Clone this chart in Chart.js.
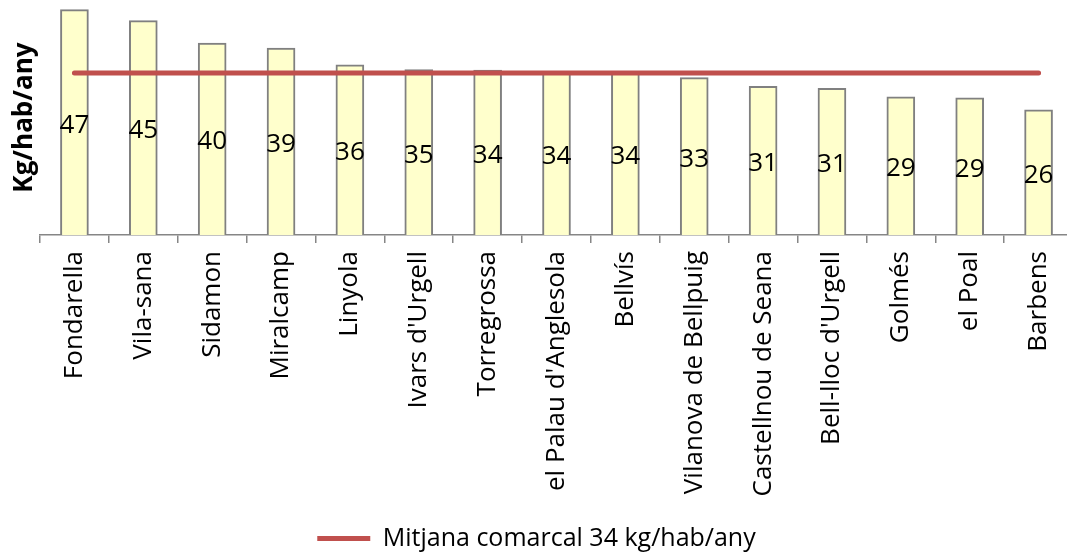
<!DOCTYPE html>
<html>
<head>
<meta charset="utf-8">
<script src="https://cdn.jsdelivr.net/npm/chart.js@4.4.1/dist/chart.umd.min.js"></script>
<style>
    body { margin: 0; background: #fff; overflow: hidden; }
    #wrap { width: 1073px; height: 555px; }
</style>
</head>
<body>
<div id="wrap"><canvas id="residusChart"></canvas></div>
<script>
// Municipis (ordenats de més a menys)
const municipis = [
    "Fondarella", "Vila-sana", "Sidamon", "Miralcamp", "Linyola",
    "Ivars d'Urgell", "Torregrossa", "el Palau d'Anglesola", "Bellvís",
    "Vilanova de Bellpuig", "Castellnou de Seana", "Bell-lloc d'Urgell",
    "Golmés", "el Poal", "Barbens"
];

// Kg/hab/any per municipi
const kgHabAny = [47.0, 44.7, 40.0, 39.0, 35.5, 34.5, 34.4, 34.0, 33.9, 32.8, 31.0, 30.6, 28.8, 28.6, 26.1];

// Mitjana comarcal
const mitjana = 33.8;
const mitjanaSerie = municipis.map(() => mitjana);

const fontFamily = "'Open Sans', 'Noto Sans', sans-serif";

// Etiquetes de valor al mig de cada barra
const valueLabels = {
    id: "valueLabels",
    afterDatasetsDraw(chart) {
        let ctx = chart.ctx;
        let meta = chart.getDatasetMeta(0);
        ctx.save();
        ctx.font = "26px " + fontFamily;
        ctx.fillStyle = "#000";
        ctx.textAlign = "center";
        ctx.textBaseline = "middle";
        meta.data.forEach((bar, i) => {
            ctx.fillText(Math.round(kgHabAny[i]), bar.x, (bar.y + bar.base) / 2 + 3);
        });
        ctx.restore();
    }
};

let ctx = document.getElementById("residusChart").getContext("2d");

new Chart(ctx, {
    type: "bar",
    data: {
        labels: municipis,
        datasets: [{
            label: "Kg/hab/any",
            data: kgHabAny,
            backgroundColor: "#FFFFCC",
            borderColor: "#808080",
            borderWidth: 2,
            borderSkipped: "bottom",
            barThickness: 28,
            order: 2
        }, {
            type: "line",
            label: "Mitjana comarcal 34 kg/hab/any",
            data: mitjanaSerie,
            borderColor: "#C0504D",
            backgroundColor: "#C0504D",
            borderWidth: 5,
            borderCapStyle: "round",
            pointRadius: 0,
            fill: false,
            order: 1
        }]
    },
    options: {
        responsive: true,
        maintainAspectRatio: false,
        animation: false,
        layout: { padding: { left: 0, top: 0, right: 0, bottom: -6 } },
        plugins: {
            tooltip: { enabled: false },
            legend: {
                position: "bottom",
                labels: {
                    filter: item => item.datasetIndex === 1,
                    usePointStyle: true,
                    pointStyle: "line",
                    pointStyleWidth: 53,
                    color: "#000",
                    padding: 6,
                    font: { family: fontFamily, size: 25 }
                }
            }
        },
        scales: {
            x: {
                grid: {
                    drawOnChartArea: false,
                    drawTicks: true,
                    tickLength: 8,
                    color: "#868686",
                    lineWidth: 1.5
                },
                border: { display: true, color: "#868686", width: 1.5 },
                ticks: {
                    color: "#000",
                    minRotation: 90,
                    maxRotation: 90,
                    padding: 8,
                    font: { family: fontFamily, size: 26 }
                },
                afterFit: scale => {
                    scale.height = 285;
                    scale.paddingLeft = 0;
                    scale.paddingRight = 0;
                }
            },
            y: {
                min: 0,
                max: 49,
                grid: { display: false },
                border: { display: false },
                ticks: { display: false },
                title: {
                    display: true,
                    text: "Kg/hab/any",
                    color: "#000",
                    padding: { top: 9, bottom: 0 },
                    font: { family: fontFamily, size: 26, weight: "bold" }
                },
                afterFit: scale => { scale.width = 40; }
            }
        }
    },
    plugins: [valueLabels]
});
</script>
</body>
</html>
